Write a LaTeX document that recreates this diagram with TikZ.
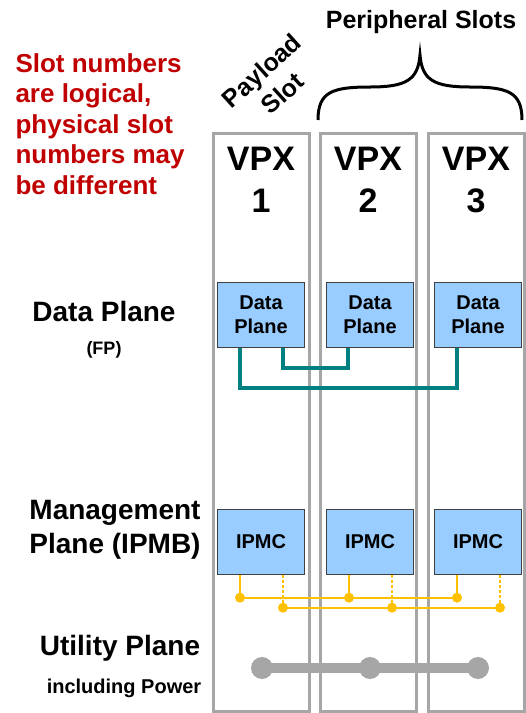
\documentclass[tikz,border=0pt]{standalone}
\usepackage{fontspec}
\setmainfont{Liberation Sans}
\definecolor{slotgray}{HTML}{A6A6A6}
\definecolor{cardblue}{HTML}{99CCFF}
\definecolor{cardedge}{HTML}{404040}
\definecolor{fpteal}{HTML}{008080}
\definecolor{ipmbyellow}{HTML}{FFC000}
\definecolor{notered}{HTML}{C00000}
\begin{document}
\begin{tikzpicture}[x=1pt, y=-1pt,
    slot/.style={rectangle, draw=slotgray, line width=3pt, minimum width=96pt, minimum height=578pt},
    vpx/.style={align=center, font=\fontsize{34}{42}\selectfont\bfseries},
    card/.style={rectangle, draw=cardedge, fill=cardblue, minimum width=87pt, minimum height=65pt,
        inner sep=0pt, align=center, font=\fontsize{20}{24}\selectfont\bfseries},
    fpline/.style={draw=fpteal, line width=4pt},
    ipmb/.style={draw=ipmbyellow, line width=2pt},
    hub/.style={circle, fill=slotgray, minimum size=22pt, inner sep=0pt},
    plane/.style={align=center, font=\fontsize{28}{34}\selectfont\bfseries},
    small/.style={font=\fontsize{18}{22}\selectfont\bfseries}
]
    \useasboundingbox (0,0) rectangle (526,713);

    % slots with their cards
    \foreach \i/\sx/\bx in {1/261/261, 2/368/370, 3/476/478} {
        \node[slot] (s\i) at (\sx,422) {};
        \node[vpx] (v\i) at (\sx,180) {VPX\\\i};
        \node[card] (d\i) at (\bx,315) {Data\\Plane};
        \node[card] (m\i) at (\bx,542) {IPMC};
    }

    % data plane links
    \draw[fpline] ([xshift=22pt]d1.south) -- ++(0,20) -| ([xshift=-22pt]d2.south);
    \draw[fpline] ([xshift=-21pt]d1.south) -- ++(0,40) -| ([xshift=-21pt]d3.south);

    % IPMB, two buses
    \foreach \i in {1,2,3} {
        \draw[ipmb] ([xshift=-21pt]m\i.south) -- ++(0,23) coordinate (a\i);
        \draw[ipmb, dash pattern=on 3pt off 2pt] ([xshift=22pt]m\i.south) -- ++(0,33) coordinate (b\i);
    }
    \draw[ipmb] (a1) -- (a3);
    \draw[ipmb] (b1) -- (b3);
    \foreach \i in {1,2,3} {
        \fill[ipmbyellow] (a\i) circle (5pt);
        \fill[ipmbyellow] (b\i) circle (5pt);
    }

    % utility plane
    \node[hub] (u1) at (262,668) {};
    \node[hub] (u2) at (370,668) {};
    \node[hub] (u3) at (478,668) {};
    \draw[slotgray, line width=10pt] (u1.center) -- (u3.center);

    % plane names
    \node[plane] (dp) at (104,311) {Data Plane};
    \node[small] (fp) at (104,350) {(FP)};
    \node[plane] (mp) at (115,530) {Management\\Plane (IPMB)};
    \node[plane] (up) at (120,648) {Utility Plane};
    \node[font=\fontsize{20}{24}\selectfont\bfseries] (pw) at (124,688) {including Power};

    \node[anchor=west, align=left, text=notered, font=\fontsize{26}{30.5}\selectfont\bfseries] (note)
        at (12,124) {Slot numbers\\are logical,\\physical slot\\numbers may\\be different};

    % slot groups
    \node[align=center, rotate=42, font=\fontsize{25}{31}\selectfont\bfseries] (pl) at (272,82) {Payload\\Slot};
    \node[font=\fontsize{25}{30}\selectfont\bfseries] (ps) at (421,22) {Peripheral Slots};
    \draw[line width=3pt] (318,120) .. controls (318,92) and (332,87) .. (370,87)
        .. controls (406,87) and (418,80) .. (420,55)
        .. controls (422,80) and (434,87) .. (470,87)
        .. controls (508,87) and (522,92) .. (522,120);
\end{tikzpicture}
\end{document}
